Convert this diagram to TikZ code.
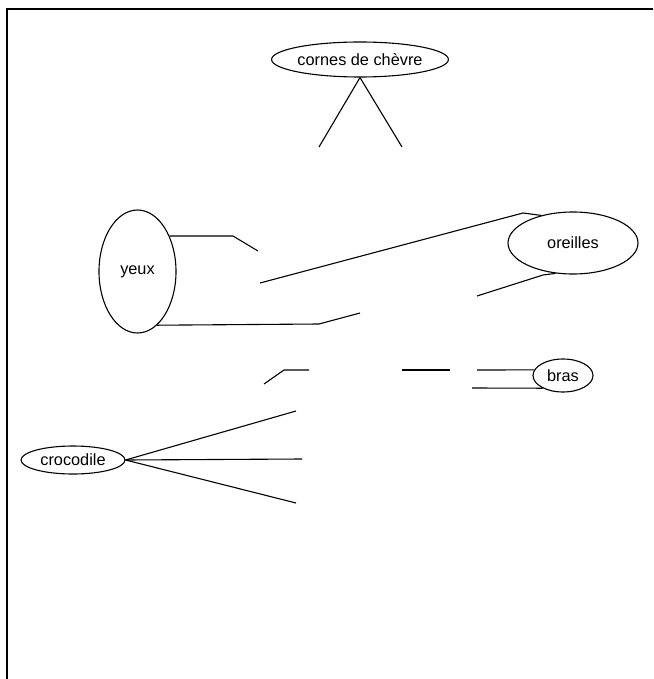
\documentclass[tikz,border=0pt]{standalone}
\usepackage{fontspec}
\setmainfont{Liberation Sans}
\usetikzlibrary{shapes.geometric}

\begin{document}
\begin{tikzpicture}[x=1pt,y=-1pt,font=\fontsize{16.3pt}{19pt}\selectfont,
      ov/.style={draw,ellipse,line width=1.1pt,inner sep=0pt},
      ln/.style={line width=1.1pt}]
      \useasboundingbox (0,0) rectangle (653,679);
      \draw[line width=2.5pt] (7,679) -- (7,9) -- (653,9);
      % nodes
      \node[ov,minimum width=156,minimum height=35] (cornes) at (360,59.5) {cornes de chèvre};
      \node[ov,minimum width=77,minimum height=123] (yeux) at (137.5,271.5) {yeux};
      \node[ov,minimum width=130,minimum height=62] (oreilles) at (573,243) {oreilles};
      \node[ov,minimum width=60,minimum height=33] (bras) at (563,375.5) {bras};
      \node[ov,minimum width=104,minimum height=28] (croco) at (73,460) {crocodile};
      % free ends
      \coordinate (c1) at (319,147); \coordinate (c2) at (402,147);
      \coordinate (y1) at (258,251); \coordinate (y2) at (260,283); \coordinate (y3) at (360,313);
      \coordinate (o1) at (477,296);
      \coordinate (m1) at (264,384); \coordinate (m2) at (309,370);
      \coordinate (m3) at (402,370); \coordinate (m4) at (450,370);
      \coordinate (b1) at (477,370); \coordinate (b2) at (472,388);
      \coordinate (k1) at (296,411); \coordinate (k2) at (302,459); \coordinate (k3) at (296,503);
      % connectors
      \draw[ln] (cornes.south) -- (c1); \draw[ln] (cornes.south) -- (c2);
      \draw[ln] (yeux.48) -- (233,236) -- (y1);
      \draw[ln] (y2) -- (523,213) -- (oreilles.139);
      \draw[ln] (yeux.-70) -- (319,324) -- (y3);
      \draw[ln] (oreilles.-120) -- (543,275) -- (o1);
      \draw[ln] (m1) -- (284,370) -- (m2); \draw[ln] (m3) -- (m4);
      \draw[ln] (b1) -- (bras.169); \draw[ln] (b2) -- (bras.-148);
      \draw[ln] (croco.east) -- (k1); \draw[ln] (croco.east) -- (k2); \draw[ln] (croco.east) -- (k3);
    \end{tikzpicture}
\end{document}
